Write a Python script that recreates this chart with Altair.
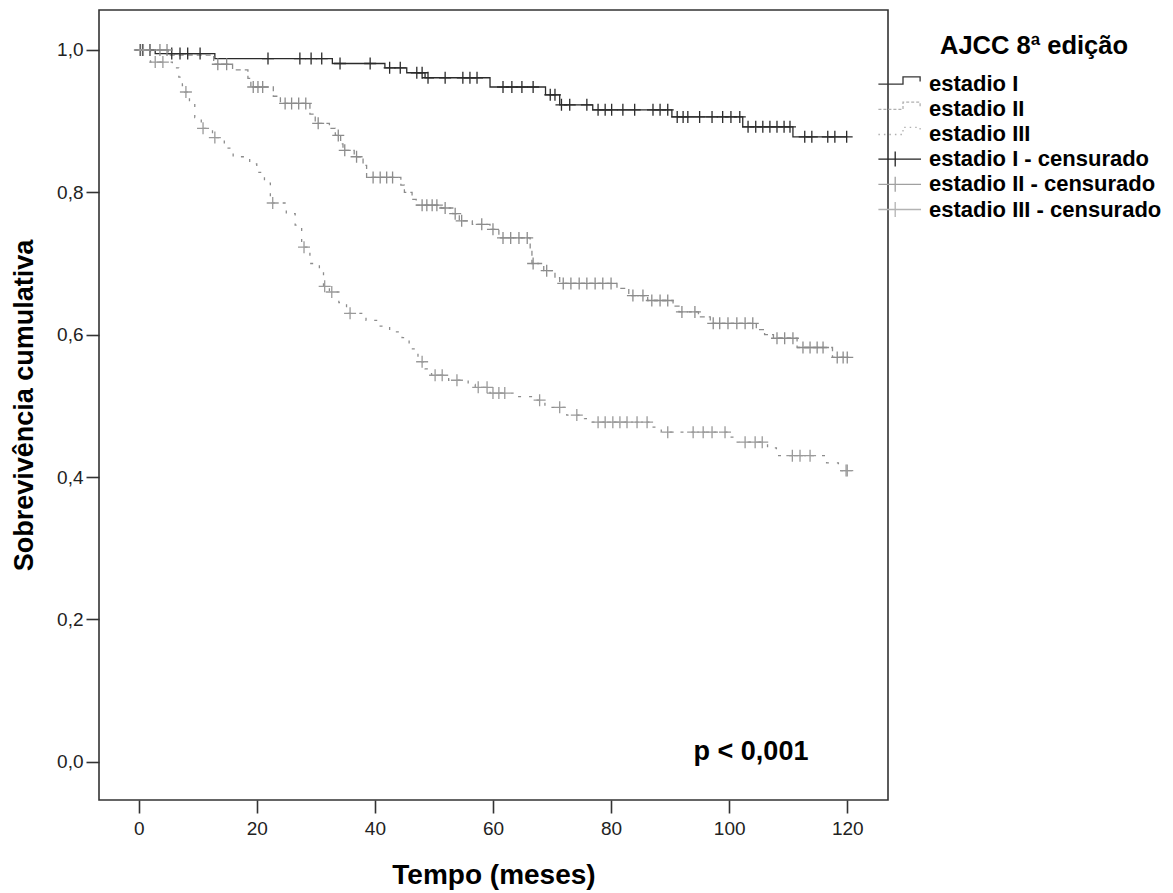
import altair as alt
import pandas as pd

# ---------------- data ----------------
series_names = ["estadio I", "estadio II", "estadio III"]

# Kaplan-Meier step points (time in months, cumulative survival)
s1_time = [0, 2.8, 12.9, 32.8, 41.7, 45.4, 48.5, 59.5, 68.9, 71.3, 76.9, 90.3, 102.3, 110.8, 120.0]
s1_surv = [1.0, 0.995, 0.988, 0.981, 0.975, 0.968, 0.961, 0.948, 0.937, 0.923, 0.916, 0.906, 0.892, 0.878, 0.878]
s1_cens = [0.3, 0.7, 1.9, 5.6, 7.0, 8.3, 10.4, 21.9, 27.3, 29.2, 31.0, 34.1, 39.2, 42.5, 44.3,
           47.1, 48.0, 49.0, 51.9, 54.9, 56.1, 57.3, 61.7, 63.2, 64.9, 66.8, 69.7, 70.5, 71.6,
           73.0, 75.9, 77.8, 79.0, 80.1, 82.0, 84.0, 87.1, 88.3, 89.6, 91.2, 92.2, 93.0, 95.0,
           97.1, 98.9, 100.3, 101.8, 103.2, 104.5, 105.7, 106.9, 108.1, 109.3, 110.3, 112.8,
           114.0, 116.7, 117.9, 119.9]

s2_time = [0, 5.0, 12.7, 15.9, 18.5, 19.0, 22.8, 24.0, 29.0, 29.9, 32.3, 33.3, 34.2, 34.6,
           36.5, 38.0, 38.6, 44.4, 45.0, 46.3, 47.0, 51.2, 53.2, 54.3, 56.5, 59.5, 61.0, 66.3,
           66.6, 68.6, 70.5, 71.3, 81.0, 83.0, 86.2, 90.5, 91.5, 94.8, 96.8, 104.6, 106.0,
           107.5, 111.5, 117.5, 120.0]
s2_surv = [1.0, 0.993, 0.98, 0.972, 0.96, 0.948, 0.935, 0.925, 0.91, 0.897, 0.89, 0.88, 0.868,
           0.859, 0.85, 0.838, 0.821, 0.81, 0.80, 0.79, 0.782, 0.778, 0.77, 0.76, 0.755, 0.748,
           0.736, 0.72, 0.70, 0.69, 0.68, 0.672, 0.665, 0.655, 0.648, 0.64, 0.632, 0.625, 0.616,
           0.607, 0.60, 0.595, 0.582, 0.568, 0.568]
s2_cens = [1.9, 3.6, 4.8, 13.4, 14.9, 19.4, 20.2, 21.0, 24.8, 25.9, 27.1, 28.3, 30.4, 33.8,
           34.9, 36.9, 39.7, 40.9, 42.0, 43.0, 48.0, 48.8, 49.7, 50.5, 51.9, 53.6, 54.7, 58.1,
           60.0, 61.7, 63.0, 64.4, 65.8, 66.8, 69.1, 71.9, 73.2, 74.6, 75.9, 77.3, 78.6, 80.0,
           83.7, 85.4, 86.9, 88.3, 89.6, 92.0, 94.2, 97.3, 98.4, 99.8, 101.3, 102.7, 104.0,
           108.1, 109.4, 110.8, 112.5, 113.7, 114.9, 115.9, 118.3, 119.3, 120.0]

s3_time = [0, 2.0, 5.7, 6.8, 7.4, 7.8, 8.6, 9.5, 10.6, 12.5, 14.5, 16.0, 18.8, 20.0, 21.3,
           22.3, 25.0, 26.5, 27.6, 29.0, 30.6, 31.3, 32.3, 33.9, 35.2, 38.5, 40.5, 42.5, 44.6,
           45.8, 47.3, 48.5, 49.6, 52.5, 55.8, 57.0, 59.5, 64.0, 66.8, 68.8, 72.5, 75.5, 76.5,
           86.8, 88.5, 100.0, 101.0, 106.5, 108.0, 116.5, 118.5, 120.0]
s3_surv = [1.0, 0.983, 0.975, 0.962, 0.95, 0.941, 0.925, 0.905, 0.89, 0.877, 0.862, 0.85,
           0.84, 0.828, 0.813, 0.785, 0.77, 0.754, 0.723, 0.70, 0.688, 0.668, 0.66, 0.645,
           0.63, 0.62, 0.612, 0.604, 0.596, 0.58, 0.562, 0.552, 0.543, 0.536, 0.53, 0.526,
           0.518, 0.513, 0.508, 0.498, 0.487, 0.482, 0.477, 0.47, 0.463, 0.456, 0.449, 0.441,
           0.43, 0.42, 0.409, 0.409]
s3_cens = [0.2, 0.8, 2.8, 4.1, 8.0, 10.9, 12.9, 22.7, 28.0, 31.5, 32.7, 35.8, 48.0, 50.2,
           51.4, 53.9, 57.5, 59.0, 60.0, 61.0, 62.0, 67.9, 71.3, 74.2, 77.8, 79.0, 80.3, 81.5,
           82.7, 84.4, 86.1, 89.6, 93.9, 95.6, 97.1, 99.3, 102.7, 104.4, 105.6, 110.7, 112.0,
           113.7, 119.8, 120.0]

legend_labels = ["estadio I", "estadio II", "estadio III",
                 "estadio I - censurado", "estadio II - censurado", "estadio III - censurado"]

x_ticks = [0, 20, 40, 60, 80, 100, 120]
y_ticks = [0.0, 0.2, 0.4, 0.6, 0.8, 1.0]

# ---------------- build tables ----------------
def lookup(times, survs, t):
    v = survs[0]
    for tt, ss in zip(times, survs):
        if tt <= t:
            v = ss
    return v

curves = [(s1_time, s1_surv, s1_cens), (s2_time, s2_surv, s2_cens), (s3_time, s3_surv, s3_cens)]
line_rows, cens_rows = [], []
for name, (tt, ss, cc) in zip(series_names, curves):
    for t, s in zip(tt, ss):
        line_rows.append({"serie": name, "t": t, "s": s})
    for t in cc:
        cens_rows.append({"serie": name, "t": t, "s": lookup(tt, ss, t)})
lines_df = pd.DataFrame(line_rows)
cens_df = pd.DataFrame(cens_rows)
legend_df = pd.DataFrame({"label": legend_labels})
ptext_df = pd.DataFrame({"t": [103.7], "s": [0.002], "txt": ["p < 0,001"]})

# ---------------- styling ----------------
FONT = "Liberation Sans"
line_colors = ["#2b2b2b", "#8c8c8c", "#8c8c8c"]
line_dashes = [[1, 0], [5, 4], [3, 8]]
cens_colors = ["#2b2b2b", "#8c8c8c", "#9a9a9a"]
CROSS = "M-1,0H1M0,-1V1"

STEP = "M-6.6,0.1H-2.5V-1.1H0.35V-0.35"
LCROSS = "M-6.6,0H0.5M-3.8,-1.25V1.25"
legend_shapes = [STEP, STEP, STEP, LCROSS, LCROSS, LCROSS]
legend_colors = ["#333333", "#b0b0b0", "#b0b0b0", "#222222", "#a0a0a0", "#b3b3b3"]
legend_dashes = [[1, 0], [3, 2], [1.5, 4], [1, 0], [1, 0], [1, 0]]

x_scale = alt.Scale(domain=[-6.72, 126.9], nice=False, zero=False)
y_scale = alt.Scale(domain=[-0.0538, 1.0562], nice=False, zero=False)

X = alt.X("t:Q", scale=x_scale, axis=alt.Axis(
    values=x_ticks, title="Tempo (meses)", grid=False, domain=False,
    tickSize=13, tickWidth=1.6, tickColor="#333333",
    labelFont=FONT, labelFontSize=19, labelColor="#222222", labelPadding=6,
    titleFont=FONT, titleFontSize=28, titleFontWeight="bold", titleColor="#000000",
    titlePadding=23))
Y = alt.Y("s:Q", scale=y_scale, axis=alt.Axis(
    values=y_ticks, title="Sobrevivência cumulativa", grid=False, domain=False,
    labelExpr="replace(format(datum.value, '.1f'), '.', ',')",
    tickSize=13, tickWidth=1.6, tickColor="#333333",
    labelFont=FONT, labelFontSize=19, labelColor="#222222", labelPadding=3,
    titleFont=FONT, titleFontSize=27, titleFontWeight="bold", titleColor="#000000",
    titlePadding=18))

layers = []
for name, col, dash in zip(series_names, line_colors, line_dashes):
    layers.append(
        alt.Chart(lines_df).transform_filter(alt.datum.serie == name)
        .mark_line(interpolate="step-after", color=col, strokeWidth=1.3, strokeDash=dash)
        .encode(x=X, y=Y)
    )
for name, col in zip(series_names, cens_colors):
    layers.append(
        alt.Chart(cens_df).transform_filter(alt.datum.serie == name)
        .mark_point(shape=CROSS, size=144, filled=False, color=col, strokeWidth=1.3, opacity=1)
        .encode(x=X, y=Y)
    )

layers.append(
    alt.Chart(ptext_df).mark_text(font=FONT, fontSize=27, fontWeight="bold", color="#000000",
                                  align="center", baseline="alphabetic")
    .encode(x=X, y=Y, text="txt:N")
)

leg = alt.Legend(
    title="AJCC 8ª edição", orient="none", legendX=808, legendY=23.5,
    titleFont=FONT, titleFontSize=25.5, titleFontWeight="bold", titleColor="#000000",
    titleAnchor="middle", titlePadding=13.5, titleLimit=600,
    labelFont=FONT, labelFontSize=22, labelFontWeight="bold", labelColor="#000000",
    labelOffset=0, labelLimit=600, symbolSize=144, symbolStrokeWidth=1.3, rowPadding=3.2,
    symbolOpacity=1)

layers.append(
    alt.Chart(legend_df).mark_point(filled=False, strokeWidth=1.3)
    .encode(
        x=alt.value(0), y=alt.value(0), opacity=alt.value(0),
        color=alt.Color("label:N", scale=alt.Scale(domain=legend_labels, range=legend_colors), legend=leg),
        shape=alt.Shape("label:N", scale=alt.Scale(domain=legend_labels, range=legend_shapes), legend=leg),
        strokeDash=alt.StrokeDash("label:N", scale=alt.Scale(domain=legend_labels, range=legend_dashes), legend=leg),
    )
)

chart = alt.layer(*layers).properties(
    width=789, height=790,
    padding={"left": 91, "top": 2, "right": 277, "bottom": 90},
    autosize=alt.AutoSizeParams(type="none"),
    background="white",
).configure_view(stroke="#333333", strokeWidth=1.6)

chart.save("out.html", embed_options={"renderer": "svg", "actions": False})
